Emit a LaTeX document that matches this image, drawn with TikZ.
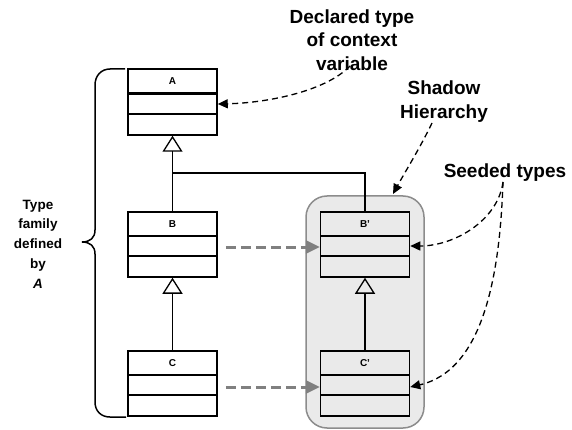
\documentclass[tikz,border=0pt]{standalone}
\usepackage{fontspec}
\setmainfont{Liberation Sans}
\usetikzlibrary{arrows.meta,calc}
\definecolor{boxfill}{HTML}{EAEAEA}
\definecolor{boxline}{HTML}{8C8C8C}
\definecolor{garrow}{HTML}{808080}
\begin{document}
\begin{tikzpicture}[x=1pt,y=-1pt,
 comp/.style={draw, line width=1.5pt, minimum width=89pt, inner sep=0pt, font=\bfseries\fontsize{10}{12}\selectfont},
 inh/.style={line width=1.3pt, -{Triangle[open, length=16pt, width=20pt, line width=1.3pt]}},
 plainline/.style={line width=1.3pt},
 gdash/.style={garrow, line width=3pt, dash pattern=on 10pt off 5pt, -{Triangle[length=14pt,width=13pt]}},
 bdash/.style={line width=1.3pt, dash pattern=on 6pt off 4pt, -{Triangle[length=10pt,width=9pt]}},
 lbl/.style={align=center, font=\bfseries\fontsize{19}{23.5}\selectfont, inner sep=0pt},
 sml/.style={align=center, font=\bfseries\fontsize{13.5}{19.75}\selectfont, inner sep=0pt}]
\useasboundingbox (0,0) rectangle (572,430);

% shadow hierarchy box
\node[draw=boxline, fill=boxfill, line width=1.5pt, rounded corners=21pt,
      minimum width=118pt, minimum height=232pt] (shadowbox) at (365,312) {};

% class A
\node[comp, minimum height=24pt] (A)  at (172.5,81) {A};
\node[comp, minimum height=20pt] (Am) at (172.5,104) {};
\node[comp, minimum height=21pt] (Ab) at (172.5,124.5) {};
% class B
\node[comp, minimum height=24pt] (B)  at (172.5,224) {B};
\node[comp, minimum height=20pt] (Bm) at (172.5,246) {};
\node[comp, minimum height=21pt] (Bb) at (172.5,266.5) {};
% class C
\node[comp, minimum height=24pt] (C)  at (172.5,363) {C};
\node[comp, minimum height=20pt] (Cm) at (172.5,385) {};
\node[comp, minimum height=21pt] (Cb) at (172.5,405.5) {};
% class B'
\node[comp, minimum height=24pt] (Bp)  at (365,224) {B'};
\node[comp, minimum height=20pt] (Bpm) at (365,246) {};
\node[comp, minimum height=21pt] (Bpb) at (365,266.5) {};
% class C'
\node[comp, minimum height=24pt] (Cp)  at (365,363) {C'};
\node[comp, minimum height=20pt] (Cpm) at (365,385) {};
\node[comp, minimum height=21pt] (Cpb) at (365,405.5) {};

% inheritance
\coordinate (J) at (172.5,173);
\draw[inh] (B.north) -- (Ab.south);
\draw[inh] (C.north) -- (Bb.south);
\draw[inh] (Cp.north) -- (Bpb.south);
\draw[plainline] (Bp.north) |- (J);

% gray dashed arrows
\draw[gdash] ([xshift=8pt,yshift=-1pt]Bm.east) -- ([yshift=-1pt]Bpm.west);
\draw[gdash] ([xshift=8pt,yshift=-2pt]Cm.east) -- ([yshift=-2pt]Cpm.west);

% brace
\draw[line width=1.5pt] (125,69) -- (110,69) .. controls (101,69) and (95,76) .. (95,85)
  -- (95,230) .. controls (95,238) and (90,242) .. (82,242)
  .. controls (90,242) and (95,246) .. (95,254)
  -- (95,402) .. controls (95,411) and (101,417) .. (110,417) -- (126,417);

% labels
\node[sml] (fam) at (38,244) {Type\\family\\defined\\by\\\itshape A};
\node[lbl] (decl) at (352,40) {Declared type\\of context\\variable};
\node[lbl] (shadow) at (444,101.5) {Shadow\\Hierarchy};
\node[lbl] (seeded) at (505,173) {Seeded types};

% black dashed arrows
\coordinate (d1) at (350,66);
\coordinate (s1) at (432,123);
\coordinate (s2) at (393,194);
\coordinate (e1) at (503,182);
\draw[bdash] (d1) .. controls (325,92) and (265,103) .. (Am.east);
\draw[bdash] (s1) .. controls (420,148) and (405,172) .. (s2);
\draw[bdash] (e1) .. controls (498,220) and (455,246) .. (Bpm.east);
\draw[bdash] (e1) .. controls (500,270) and (485,370) .. ([yshift=-2pt]Cpm.east);
\end{tikzpicture}
\end{document}
